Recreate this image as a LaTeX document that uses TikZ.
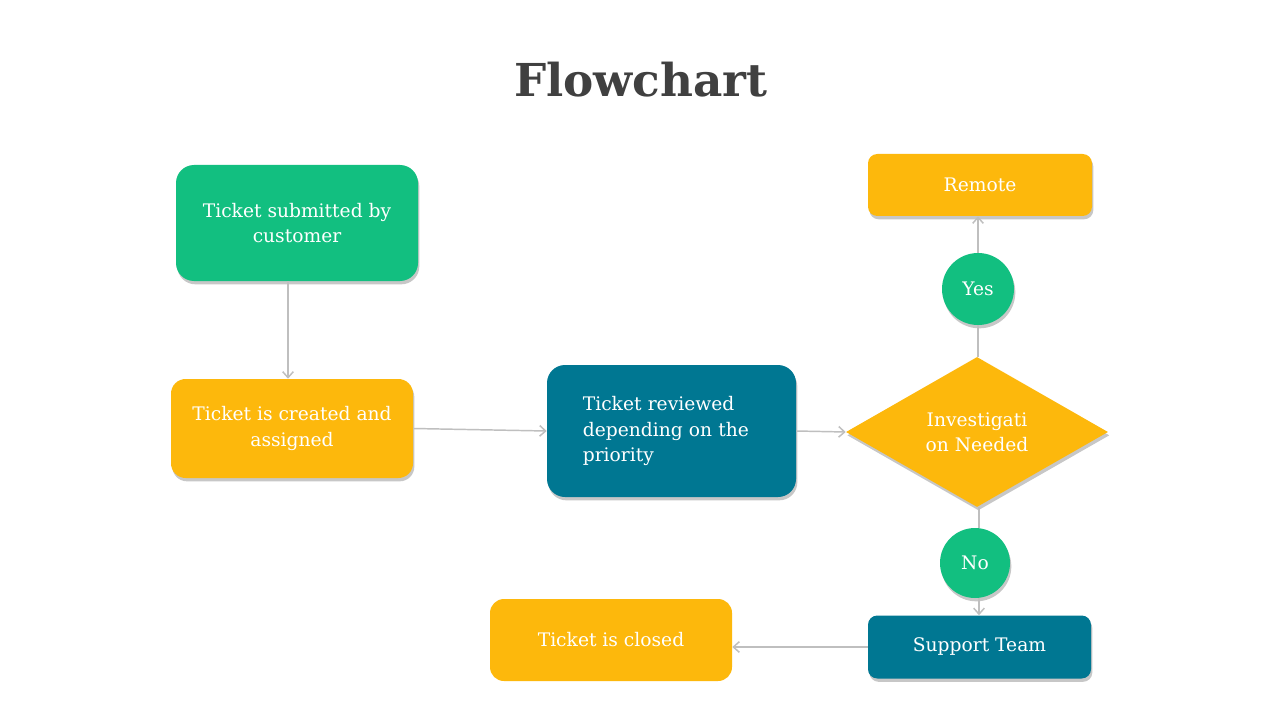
\documentclass[tikz,border=0pt]{standalone}
\usepackage{fontspec}
\setmainfont{DejaVu Serif}
\usetikzlibrary{shapes.geometric,shadows,arrows.meta}
\definecolor{fgreen}{HTML}{12BF80}
\definecolor{fyellow}{HTML}{FDB80C}
\definecolor{fteal}{HTML}{007792}
\definecolor{fline}{HTML}{BFBFBF}
\definecolor{ftitle}{HTML}{404040}
\begin{document}
\begin{tikzpicture}[x=0.75pt,y=-0.75pt,
  txt/.style={text=white,align=center,inner sep=0pt,
    font=\fontsize{14pt}{19pt}\selectfont},
  shad/.style={drop shadow={shadow xshift=1pt,shadow yshift=-2.5pt,opacity=0.22,fill=black}},
  conn/.style={draw=fline,line width=1.1pt},
  arr/.style={conn,-{Straight Barb[length=4.5pt,width=8pt,line width=1.1pt]}}]
\useasboundingbox (0,0) rectangle (1280,720);
\fill[white] (0,0) rectangle (1280,720);
\node[anchor=base,text=ftitle,font=\fontsize{34pt}{36pt}\selectfont\bfseries] (title) at (641,97) {Flowchart};
\node[txt,shad,fill=fgreen,rounded corners=13.5pt,minimum width=181.5pt,minimum height=87pt] (b1) at (297,223) {Ticket submitted by\\customer};
\node[txt,shad,fill=fyellow,rounded corners=11pt,minimum width=181.5pt,minimum height=74.25pt] (b2) at (292,428.5) {Ticket is created and\\assigned};
\node[txt,shad,fill=fteal,rounded corners=13.5pt,minimum width=186.75pt,minimum height=99pt,align=left,text width=133pt] (b3) at (671.5,431) {Ticket reviewed\\depending on the\\priority};
\node[txt,shad,fill=fyellow,shape=diamond,aspect=1.75,minimum width=196.5pt,minimum height=112.5pt] (dia) at (977,432) {Investigati\\on Needed};
\node[txt,shad,fill=fyellow,rounded corners=7pt,minimum width=168pt,minimum height=46.5pt] (rem) at (980,185) {Remote};
\node[txt,shad,fill=fgreen,circle,minimum size=54pt] (yes) at (978,289) {Yes};
\node[txt,shad,fill=fgreen,circle,minimum size=52.5pt] (no) at (975,563) {No};
\node[txt,shad,fill=fteal,rounded corners=7pt,minimum width=167.25pt,minimum height=47.25pt] (sup) at (979.5,647) {Support Team};
\node[txt,fill=fyellow,rounded corners=10.5pt,minimum width=181.5pt,minimum height=61.5pt] (closed) at (611,640) {Ticket is closed};
\coordinate (c1) at (288,0);
\coordinate (c2) at (979,0);
\draw[arr] (b1.south -| c1) -- (b2.north -| c1);
\draw[arr] (b2.east) -- (b3.west);
\draw[arr] (b3.east) -- (dia.west);
\draw[conn] (dia.north -| yes.north) -- (yes.south);
\draw[arr] (yes.north) -- (yes.north |- rem.south);
\draw[conn] (dia.south -| c2) -- (no.north -| c2);
\draw[arr] (no.south -| c2) -- (sup.north -| c2);
\draw[arr] (sup.west) -- (sup.west -| closed.east);
\end{tikzpicture}
\end{document}
